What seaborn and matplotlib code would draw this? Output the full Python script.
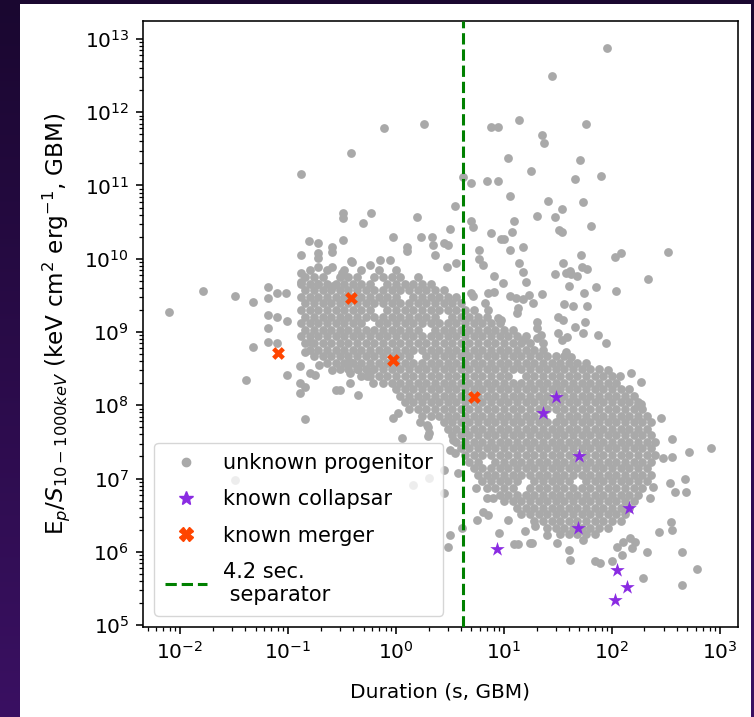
import numpy as np
import pandas as pd
import matplotlib
matplotlib.use("Agg")
import matplotlib.pyplot as plt
from matplotlib.colors import LinearSegmentedColormap
from matplotlib.patches import Rectangle
from matplotlib.lines import Line2D
from matplotlib.ticker import LogLocator, FixedLocator, NullFormatter
import seaborn as sns

# ---------------------------------------------------------------------------
# GBM bursts: log10 duration [s] and log10 Ep/S [keV cm^2 erg^-1]
# Dense part of the population, listed row by row:
#   (log10 Ep/S, [log10 duration, ...])
core_rows = [
    (9.84, [-0.80, -0.64, -0.48, -0.32, -0.16, 0.00]),
    (9.75, [-0.84, -0.76, -0.68, -0.52, -0.44, -0.36, -0.20, -0.12, -0.04, 0.04, 0.20]),
    (9.66, [-0.88, -0.80, -0.72, -0.64, -0.56, -0.48, -0.40, -0.32, -0.24, -0.08, 0.00, 0.08,
            0.16, 0.24, 0.32]),
    (9.57, [-0.84, -0.76, -0.68, -0.60, -0.52, -0.44, -0.36, -0.28, -0.20, -0.12, -0.04, 0.04,
            0.12, 0.20, 0.28, 0.36, 0.44]),
    (9.48, [-0.88, -0.80, -0.72, -0.64, -0.56, -0.48, -0.40, -0.32, -0.24, -0.16, -0.08, 0.00,
            0.16, 0.24, 0.32, 0.40, 0.48, 0.56]),
    (9.39, [-0.84, -0.76, -0.68, -0.60, -0.52, -0.44, -0.36, -0.28, -0.20, -0.12, -0.04, 0.04,
            0.12, 0.20, 0.28, 0.36, 0.44, 0.52, 0.60]),
    (9.30, [-0.88, -0.80, -0.72, -0.64, -0.56, -0.48, -0.40, -0.32, -0.24, -0.08, 0.00, 0.08,
            0.16, 0.24, 0.32, 0.40, 0.48, 0.56, 0.64, 0.72]),
    (9.21, [-0.84, -0.76, -0.68, -0.60, -0.52, -0.44, -0.36, -0.28, -0.20, -0.12, -0.04, 0.04,
            0.12, 0.20, 0.28, 0.36, 0.52, 0.60, 0.68, 0.76, 0.84]),
    (9.12, [-0.88, -0.80, -0.72, -0.64, -0.56, -0.48, -0.40, -0.32, -0.16, -0.08, 0.00, 0.08,
            0.16, 0.24, 0.32, 0.40, 0.48, 0.56, 0.64, 0.72, 0.80, 0.88, 0.96]),
    (9.03, [-0.84, -0.76, -0.68, -0.60, -0.52, -0.44, -0.36, -0.28, -0.20, -0.12, -0.04, 0.04,
            0.12, 0.20, 0.36, 0.44, 0.52, 0.60, 0.68, 0.76, 0.84, 0.92, 1.00, 1.08]),
    (8.94, [-0.88, -0.80, -0.72, -0.64, -0.56, -0.48, -0.40, -0.32, -0.24, -0.16, -0.08, 0.00,
            0.08, 0.16, 0.24, 0.32, 0.40, 0.48, 0.56, 0.64, 0.72, 0.80, 0.88, 0.96, 1.04, 1.12,
            1.20]),
    (8.85, [-0.84, -0.76, -0.68, -0.60, -0.52, -0.44, -0.36, -0.28, -0.20, -0.12, -0.04, 0.04,
            0.12, 0.20, 0.28, 0.36, 0.44, 0.52, 0.60, 0.68, 0.76, 0.84, 0.92, 1.00, 1.08, 1.16,
            1.24]),
    (8.76, [-0.80, -0.72, -0.64, -0.56, -0.48, -0.40, -0.32, -0.24, -0.16, -0.08, 0.00, 0.08,
            0.16, 0.24, 0.32, 0.40, 0.48, 0.56, 0.64, 0.72, 0.80, 0.88, 0.96, 1.04, 1.12, 1.20,
            1.28, 1.36]),
    (8.67, [-0.76, -0.68, -0.60, -0.52, -0.44, -0.36, -0.28, -0.20, -0.12, -0.04, 0.04, 0.12,
            0.28, 0.36, 0.44, 0.52, 0.60, 0.68, 0.76, 0.84, 0.92, 1.00, 1.08, 1.16, 1.24, 1.32,
            1.40, 1.48, 1.56]),
    (8.58, [-0.64, -0.56, -0.48, -0.40, -0.32, -0.24, -0.16, -0.08, 0.00, 0.08, 0.16, 0.24,
            0.32, 0.40, 0.48, 0.56, 0.64, 0.72, 0.80, 0.88, 0.96, 1.04, 1.12, 1.20, 1.28, 1.36,
            1.44, 1.52, 1.60, 1.68, 1.76]),
    (8.49, [-0.52, -0.44, -0.36, -0.28, -0.20, -0.12, -0.04, 0.04, 0.12, 0.20, 0.28, 0.36,
            0.44, 0.52, 0.60, 0.68, 0.76, 0.84, 0.92, 1.00, 1.08, 1.16, 1.24, 1.32, 1.40, 1.48,
            1.56, 1.64, 1.72, 1.80, 1.88]),
    (8.40, [-0.32, -0.24, -0.16, -0.08, 0.00, 0.08, 0.16, 0.24, 0.32, 0.40, 0.48, 0.56, 0.64,
            0.72, 0.80, 0.88, 0.96, 1.04, 1.20, 1.28, 1.36, 1.44, 1.52, 1.60, 1.68, 1.76, 1.84,
            1.92, 2.00]),
    (8.31, [-0.12, -0.04, 0.04, 0.12, 0.20, 0.28, 0.36, 0.44, 0.52, 0.60, 0.68, 0.76, 0.84,
            0.92, 1.00, 1.08, 1.16, 1.24, 1.32, 1.40, 1.48, 1.56, 1.64, 1.72, 1.80, 1.88, 1.96,
            2.04]),
    (8.22, [0.00, 0.08, 0.16, 0.24, 0.32, 0.40, 0.48, 0.56, 0.64, 0.72, 0.80, 0.88, 0.96, 1.04,
            1.12, 1.20, 1.28, 1.36, 1.44, 1.52, 1.60, 1.68, 1.76, 1.84, 1.92, 2.00, 2.08, 2.16]),
    (8.13, [0.04, 0.12, 0.20, 0.28, 0.36, 0.44, 0.52, 0.60, 0.68, 0.76, 0.84, 0.92, 1.00, 1.08,
            1.16, 1.24, 1.32, 1.40, 1.48, 1.56, 1.64, 1.72, 1.80, 1.88, 1.96, 2.04, 2.12, 2.20]),
    (8.04, [0.08, 0.16, 0.24, 0.32, 0.40, 0.48, 0.56, 0.64, 0.72, 0.80, 0.88, 0.96, 1.04, 1.12,
            1.20, 1.28, 1.36, 1.44, 1.52, 1.60, 1.68, 1.76, 1.84, 1.92, 2.00, 2.08, 2.16, 2.24]),
    (7.95, [0.12, 0.20, 0.28, 0.36, 0.44, 0.52, 0.60, 0.68, 0.76, 0.84, 0.92, 1.00, 1.08, 1.16,
            1.24, 1.32, 1.40, 1.48, 1.56, 1.64, 1.72, 1.80, 1.88, 1.96, 2.04, 2.12, 2.20, 2.28]),
    (7.86, [0.24, 0.32, 0.40, 0.48, 0.56, 0.64, 0.72, 0.80, 0.88, 0.96, 1.04, 1.12, 1.20, 1.28,
            1.36, 1.52, 1.60, 1.68, 1.76, 1.84, 1.92, 2.00, 2.08, 2.16, 2.24, 2.32]),
    (7.77, [0.44, 0.52, 0.60, 0.68, 0.76, 0.84, 0.92, 1.00, 1.08, 1.16, 1.24, 1.32, 1.40, 1.48,
            1.56, 1.64, 1.72, 1.80, 1.88, 1.96, 2.04, 2.12, 2.20, 2.28, 2.36]),
    (7.68, [0.48, 0.56, 0.64, 0.72, 0.80, 0.88, 0.96, 1.04, 1.12, 1.20, 1.28, 1.36, 1.44, 1.52,
            1.60, 1.68, 1.76, 1.84, 1.92, 2.00, 2.08, 2.16, 2.24, 2.32]),
    (7.59, [0.52, 0.60, 0.68, 0.76, 0.84, 0.92, 1.00, 1.08, 1.16, 1.24, 1.32, 1.40, 1.48, 1.56,
            1.64, 1.72, 1.80, 1.88, 1.96, 2.04, 2.12, 2.20, 2.28, 2.36]),
    (7.50, [0.56, 0.64, 0.72, 0.80, 0.88, 0.96, 1.04, 1.12, 1.20, 1.28, 1.36, 1.44, 1.52, 1.60,
            1.68, 1.76, 1.84, 1.92, 2.00, 2.08, 2.16, 2.24, 2.32, 2.40]),
    (7.41, [0.60, 0.68, 0.76, 0.84, 0.92, 1.00, 1.08, 1.16, 1.24, 1.32, 1.40, 1.48, 1.56, 1.64,
            1.72, 1.80, 1.88, 1.96, 2.04, 2.12, 2.20, 2.28, 2.36]),
    (7.32, [0.64, 0.72, 0.80, 0.88, 0.96, 1.04, 1.12, 1.20, 1.28, 1.36, 1.44, 1.52, 1.60, 1.68,
            1.76, 1.84, 1.92, 2.00, 2.08, 2.16, 2.24, 2.32, 2.40]),
    (7.23, [0.68, 0.76, 0.92, 1.00, 1.08, 1.16, 1.24, 1.32, 1.40, 1.48, 1.56, 1.64, 1.72, 1.80,
            1.88, 1.96, 2.04, 2.12, 2.20, 2.28, 2.36]),
    (7.14, [0.72, 0.80, 0.88, 0.96, 1.04, 1.12, 1.20, 1.28, 1.36, 1.44, 1.52, 1.60, 1.68, 1.76,
            1.84, 1.92, 2.00, 2.08, 2.16, 2.24, 2.32]),
    (7.05, [0.76, 0.84, 0.92, 1.00, 1.08, 1.16, 1.24, 1.32, 1.40, 1.48, 1.56, 1.64, 1.72, 1.80,
            1.88, 1.96, 2.04, 2.12, 2.20, 2.28, 2.36]),
    (6.96, [0.80, 0.88, 0.96, 1.04, 1.12, 1.28, 1.36, 1.44, 1.52, 1.60, 1.76, 1.84, 1.92, 2.00,
            2.08, 2.16, 2.24, 2.32]),
    (6.87, [0.84, 0.92, 1.00, 1.08, 1.24, 1.32, 1.40, 1.48, 1.56, 1.64, 1.72, 1.80, 1.88, 1.96,
            2.04, 2.12, 2.20, 2.28]),
    (6.78, [0.96, 1.04, 1.12, 1.20, 1.28, 1.36, 1.44, 1.52, 1.60, 1.68, 1.76, 1.84, 1.92, 2.00,
            2.08, 2.16, 2.24]),
    (6.69, [1.00, 1.08, 1.16, 1.24, 1.32, 1.40, 1.48, 1.56, 1.64, 1.72, 1.80, 1.88, 1.96, 2.04,
            2.12, 2.20]),
    (6.60, [1.12, 1.20, 1.28, 1.36, 1.44, 1.52, 1.60, 1.68, 1.76, 1.84, 1.92, 2.00, 2.08, 2.16]),
    (6.51, [1.16, 1.24, 1.32, 1.40, 1.48, 1.56, 1.64, 1.72, 1.80, 1.88, 1.96, 2.04, 2.12]),
    (6.42, [1.28, 1.36, 1.44, 1.52, 1.60, 1.68, 1.76, 1.84, 1.92, 2.00, 2.08]),
    (6.33, [1.40, 1.48, 1.56, 1.64, 1.72, 1.80, 1.88, 1.96]),
    (6.24, [1.52, 1.60, 1.68, 1.76, 1.84]),
]

# Bursts lying outside the dense part: (log10 duration, log10 Ep/S)
scattered = [
    (1.95, 12.88), (1.44, 12.50), (-0.11, 11.78), (0.26, 11.84), (0.88, 11.80), (0.94, 11.80),
    (1.14, 11.90), (1.76, 11.84), (1.35, 11.69), (1.37, 11.58), (-0.42, 11.44), (1.04, 11.38),
    (1.70, 11.35), (1.25, 11.20), (-0.88, 11.15), (1.90, 11.13), (1.66, 11.09), (0.62, 11.12),
    (0.69, 11.04), (0.84, 11.06), (0.94, 11.06), (1.06, 10.86), (1.41, 10.79), (1.73, 10.78),
    (1.54, 10.68), (0.55, 10.72), (-0.49, 10.62), (-0.49, 10.55), (-0.23, 10.62), (-0.31, 10.49),
    (0.19, 10.57), (0.69, 10.52), (1.09, 10.52), (1.31, 10.58), (1.47, 10.57), (1.51, 10.39),
    (1.54, 10.37), (1.81, 10.45), (1.07, 10.37), (0.88, 10.35), (0.50, 10.41), (0.71, 10.43),
    (0.97, 10.27), (1.00, 10.27), (-0.03, 10.30), (0.23, 10.30), (0.33, 10.30), (0.34, 10.19),
    (0.44, 10.22), (0.48, 10.19), (0.10, 10.16), (0.10, 10.11), (0.36, 10.05), (0.77, 10.12),
    (1.06, 10.12), (1.18, 10.16), (1.71, 10.05), (2.03, 10.03), (2.08, 10.08), (2.52, 10.09),
    (-0.81, 10.24), (-0.72, 10.22), (-0.49, 10.26), (-0.59, 10.16), (-0.59, 10.09), (-0.72, 10.08),
    (-0.88, 10.05), (-0.72, 10.01), (-0.42, 9.97), (-0.59, 9.89), (-0.72, 9.89), (-0.88, 9.81),
    (-0.50, 9.81), (-0.88, 9.68), (-0.72, 9.65), (-0.58, 9.63), (-0.49, 9.78), (-0.41, 9.95),
    (-0.15, 9.98), (-0.06, 9.98), (-0.24, 9.91), (0.47, 9.89), (0.56, 9.94),
    (-1.19, 9.62), (-1.10, 9.53), (-1.02, 9.53), (-1.79, 9.56), (-1.49, 9.49), (-1.32, 9.41),
    (-1.19, 9.46), (-2.10, 9.27), (-1.19, 9.23), (-1.10, 9.20), (-1.01, 9.15), (-1.19, 9.05),
    (-1.32, 8.79), (-1.19, 8.87), (-1.10, 8.85), (-0.84, 8.73), (-1.39, 8.35), (-1.01, 8.41),
    (-0.89, 8.54), (-0.80, 8.87), (-0.89, 8.31), (-0.89, 8.17), (-0.84, 8.25), (-0.80, 8.44),
    (-0.75, 8.41), (-0.71, 8.55), (-0.59, 8.48), (-0.56, 8.21), (-0.84, 7.81), (-0.43, 8.59),
    (-0.35, 8.49), (-0.27, 8.40), (-0.43, 8.31), (-0.52, 8.21), (-0.35, 8.14), (-1.49, 6.98),
    (-0.43, 8.44), (-0.21, 8.30), (-0.24, 8.45),
    (0.77, 10.00), (0.81, 9.91), (1.14, 9.94), (1.18, 9.82), (1.55, 9.94), (1.61, 9.83),
    (1.68, 9.77), (1.72, 9.89), (1.77, 9.86), (1.57, 9.80), (1.62, 9.79), (2.33, 9.72),
    (0.91, 9.77), (0.99, 9.67), (1.20, 9.68), (1.47, 9.79), (1.60, 9.63), (1.85, 9.62),
    (2.04, 9.56), (1.74, 9.53), (1.35, 9.52), (1.06, 9.49), (1.11, 9.46), (0.85, 9.53),
    (0.91, 9.54), (0.69, 9.53), (0.71, 9.49), (1.18, 9.45), (1.23, 9.51), (1.27, 9.40),
    (0.82, 9.40), (0.85, 9.30), (1.56, 9.38), (1.64, 9.35), (1.77, 9.35), (1.13, 9.33),
    (1.12, 9.26), (0.94, 9.19), (0.97, 9.16), (1.50, 9.20), (1.55, 9.17), (1.31, 9.13),
    (1.31, 9.06), (1.66, 9.07), (1.75, 9.13), (1.73, 8.99), (1.87, 8.96), (1.94, 8.85),
    (1.50, 8.99), (1.58, 8.93), (1.54, 8.89), (1.31, 8.92), (1.36, 8.85), (1.34, 8.96),
    (1.18, 8.89), (2.07, 8.40), (2.18, 8.44), (2.27, 8.32), (2.24, 8.00), (2.27, 8.02),
    (2.45, 7.83), (1.96, 8.48), (1.62, 8.66), (1.57, 8.72),
    (2.92, 7.41), (2.71, 7.36), (2.68, 7.00), (2.56, 7.54), (2.56, 7.29), (2.47, 7.28),
    (2.54, 6.94), (2.58, 6.82), (2.69, 6.82), (2.38, 6.88), (2.35, 6.73), (2.44, 6.27),
    (2.55, 6.40), (2.56, 6.30), (2.65, 5.99), (2.79, 5.77), (2.65, 5.54), (2.29, 5.64),
    (2.32, 5.99), (2.21, 6.13), (2.19, 6.05), (2.09, 5.96), (2.00, 5.87), (1.84, 5.87),
    (1.89, 5.84), (1.61, 5.89), (1.60, 6.02), (1.73, 6.16), (1.49, 6.12), (1.40, 6.23),
    (2.05, 6.06), (2.10, 6.13), (2.17, 6.19),
    (0.95, 6.26), (1.09, 6.11), (1.13, 6.11), (1.19, 6.29), (1.26, 6.12), (0.75, 6.44),
    (0.81, 6.54), (0.85, 6.50), (1.04, 6.43), (0.74, 6.87), (0.84, 6.73), (0.90, 6.74),
    (1.24, 6.12), (1.29, 6.35), (0.50, 6.23), (0.48, 6.06), (0.61, 6.32),
    (-0.03, 7.82), (0.02, 7.89), (0.06, 7.55), (0.22, 7.77), (0.29, 7.73), (0.31, 7.62),
    (0.50, 7.39), (0.53, 7.53), (0.44, 7.12), (0.30, 7.70), (0.30, 7.58), (0.55, 7.35),
    (0.57, 7.07), (0.16, 6.91), (0.31, 7.01), (0.44, 6.80),
]

# Bursts with an identified progenitor
collapsar_dur = [30.5, 23.0, 49.0, 143.0, 48.0, 8.6, 112.0, 138.0, 107.0]
collapsar_ratio = [1.3e8, 7.8e7, 2.0e7, 4.0e6, 2.1e6, 1.1e6, 5.6e5, 3.3e5, 2.2e5]
merger_dur = [0.08, 0.38, 0.94, 5.3]
merger_ratio = [5.2e8, 2.9e9, 4.1e8, 1.3e8]

separator_s = 4.2

# axis decades that carry labels
x_decades = [1e-2, 1e-1, 1e0, 1e1, 1e2, 1e3]
y_decades = [1e5, 1e6, 1e7, 1e8, 1e9, 1e10, 1e11, 1e12, 1e13]

# ---------------------------------------------------------------------------
log_dur = [x for ly, xs in core_rows for x in xs] + [p[0] for p in scattered]
log_ratio = [ly for ly, xs in core_rows for x in xs] + [p[1] for p in scattered]
unknown = pd.DataFrame({"duration": np.power(10.0, log_dur),
                        "ratio": np.power(10.0, log_ratio)})
collapsars = pd.DataFrame({"duration": collapsar_dur, "ratio": collapsar_ratio})
mergers = pd.DataFrame({"duration": merger_dur, "ratio": merger_ratio})

FS = 14.5
plt.rcParams.update({
    "font.family": ["DejaVu Sans"],
    "font.size": FS,
    "mathtext.fontset": "dejavusans",
    "axes.linewidth": 1.15,
    "xtick.major.width": 1.15, "ytick.major.width": 1.15,
    "xtick.minor.width": 0.9, "ytick.minor.width": 0.9,
    "xtick.major.size": 5.0, "ytick.major.size": 5.0,
    "xtick.minor.size": 2.9, "ytick.minor.size": 2.9,
    "xtick.major.pad": 5.0, "ytick.major.pad": 5.0,
})

W, H = 754, 717
fig = plt.figure(figsize=(W / 100, H / 100), dpi=100)

# slide-like backdrop with a white card behind the chart
bg = fig.add_axes([0, 0, 1, 1], zorder=-10)
grad = np.linspace(0, 1, 256).reshape(-1, 1)
bg.imshow(grad, aspect="auto", extent=[0, 1, 0, 1],
          cmap=LinearSegmentedColormap.from_list("slide", ["#1a0730", "#3a1062"]))
bg.add_patch(Rectangle((20 / W, 0), 731 / W, 713 / H, facecolor="white",
                       edgecolor="none", transform=bg.transAxes))
bg.set_xlim(0, 1)
bg.set_ylim(0, 1)
bg.axis("off")

ax = fig.add_axes([143 / W, 90 / H, 595 / W, 606 / H])
ax.set_facecolor("white")

sns.scatterplot(data=unknown, x="duration", y="ratio", ax=ax, color="darkgray",
                s=40, linewidth=0, zorder=2)
sns.scatterplot(data=collapsars, x="duration", y="ratio", ax=ax, color="blueviolet",
                marker="*", s=120, linewidth=0, zorder=3)
sns.scatterplot(data=mergers, x="duration", y="ratio", ax=ax, color="orangered",
                marker="X", s=85, linewidth=0, zorder=4)
ax.axvline(separator_s, color="green", linestyle="--", linewidth=2.2, zorder=5)

ax.set_xscale("log")
ax.set_yscale("log")
ax.set_xlim(10 ** -2.343, 10 ** 3.167)
ax.set_ylim(10 ** 4.973, 10 ** 13.245)
ax.xaxis.set_major_locator(FixedLocator(x_decades))
ax.yaxis.set_major_locator(FixedLocator(y_decades))
ax.xaxis.set_minor_locator(LogLocator(base=10, subs=np.arange(2, 10), numticks=20))
ax.yaxis.set_minor_locator(LogLocator(base=10, subs=np.arange(2, 10), numticks=20))
ax.xaxis.set_minor_formatter(NullFormatter())
ax.yaxis.set_minor_formatter(NullFormatter())

ax.set_xlabel("Duration (s, GBM)", fontsize=FS, labelpad=14)
ax.set_ylabel(r"E$_p$/$S_{10-1000keV}$ (keV cm$^2$ erg$^{-1}$, GBM)", fontsize=16.7,
              labelpad=9)

handles = [
    Line2D([], [], linestyle="none", marker="o", markersize=6.0, color="darkgray"),
    Line2D([], [], linestyle="none", marker="*", markersize=10.5, color="blueviolet"),
    Line2D([], [], linestyle="none", marker="X", markersize=9.5, color="orangered"),
    Line2D([], [], color="green", linestyle="--", linewidth=2.2),
]
labels = ["unknown progenitor", "known collapsar", "known merger", "4.2 sec.\n separator"]
ax.legend(handles, labels, loc="lower left", fontsize=15.0, framealpha=0.8,
          borderaxespad=0.55, labelspacing=0.78, borderpad=0.5)

fig.savefig("out.png", dpi=100, facecolor=fig.get_facecolor())
